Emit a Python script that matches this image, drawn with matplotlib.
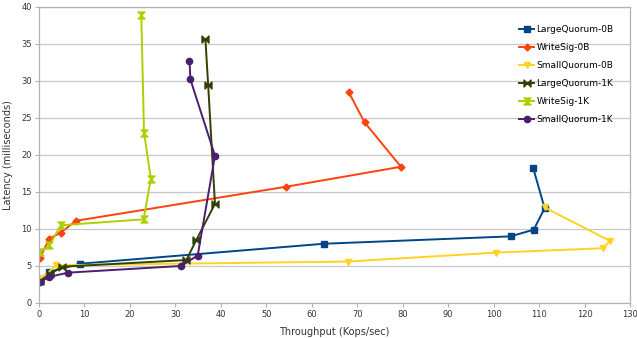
import matplotlib
matplotlib.use("Agg")
import matplotlib.pyplot as plt
from matplotlib.path import Path

series_names = ["LargeQuorum-0B", "WriteSig-0B", "SmallQuorum-0B",
                "LargeQuorum-1K", "WriteSig-1K", "SmallQuorum-1K"]

lq0_x = [0.2, 0.3, 2.2, 9.0, 62.6, 103.7, 108.8, 111.2, 108.7]
lq0_y = [3.0, 3.2, 4.2, 5.3, 8.0, 9.0, 9.9, 12.8, 18.2]

ws0_x = [0.2, 2.3, 4.8, 8.1, 54.3, 79.6, 71.6, 68.1]
ws0_y = [6.1, 8.7, 9.5, 11.1, 15.7, 18.4, 24.4, 28.5]

sq0_x = [0.3, 3.8, 68.0, 100.4, 124.1, 125.5, 111.2]
sq0_y = [3.2, 5.1, 5.6, 6.8, 7.4, 8.4, 12.9]

lq1_x = [0.3, 2.5, 5.0, 32.4, 34.6, 38.7, 37.2, 36.6]
lq1_y = [3.0, 3.9, 4.9, 5.8, 8.5, 13.4, 29.5, 35.6]

ws1_x = [0.2, 2.3, 4.8, 23.0, 24.6, 23.1, 22.5]
ws1_y = [6.9, 7.8, 10.5, 11.3, 16.8, 23.0, 38.9]

sq1_x = [0.2, 2.1, 6.4, 31.2, 34.9, 38.7, 33.3, 33.1]
sq1_y = [2.8, 3.5, 4.1, 5.0, 6.4, 19.9, 30.2, 32.7]

x_ticks = list(range(0, 131, 10))
y_ticks = list(range(0, 41, 5))

bowtie = Path([(-1, -1), (1, 1), (1, -1), (-1, 1), (-1, -1)],
              [Path.MOVETO, Path.LINETO, Path.LINETO, Path.LINETO, Path.CLOSEPOLY])
hourglass = Path([(-1, 1), (1, 1), (-1, -1), (1, -1), (-1, 1)],
                 [Path.MOVETO, Path.LINETO, Path.LINETO, Path.LINETO, Path.CLOSEPOLY])

data = [(lq0_x, lq0_y, "#004586", "s", 4.5),
        (ws0_x, ws0_y, "#ff420e", "D", 3.5),
        (sq0_x, sq0_y, "#ffd320", "v", 5),
        (lq1_x, lq1_y, "#314004", bowtie, 5),
        (ws1_x, ws1_y, "#aecf00", hourglass, 5),
        (sq1_x, sq1_y, "#4b1f6f", "o", 4.5)]

fig = plt.figure(figsize=(6.37, 3.38), dpi=100)
ax = fig.add_axes([0.0612, 0.1036, 0.928, 0.876])

for name, (xs, ys, c, m, ms) in zip(series_names, data):
    ax.plot(xs, ys, color=c, marker=m, markersize=ms, linewidth=1.4,
            markeredgecolor=c, markerfacecolor=c, label=name)

ax.set_xlim(0, 130)
ax.set_ylim(0, 40)
ax.set_xticks(x_ticks)
ax.set_yticks(y_ticks)
ax.yaxis.grid(True, color="#c8c8c8", linewidth=0.9)
ax.set_axisbelow(True)
for s in ax.spines.values():
    s.set_color("#b3b3b3")
    s.set_linewidth(0.9)
ax.tick_params(axis="both", labelsize=6, colors="#b3b3b3", labelcolor="#333333",
               length=3, width=0.8, pad=2)
ax.set_xlabel("Throughput (Kops/sec)", fontsize=7, color="#333333", labelpad=6)
ax.set_ylabel("Latency (milliseconds)", fontsize=7, color="#333333", labelpad=6)

leg = ax.legend(loc="upper right", bbox_to_anchor=(0.986, 0.966), frameon=False,
                fontsize=6.5, handlelength=1.6, labelspacing=1.0, handletextpad=0.3,
                borderaxespad=0.5)

fig.savefig("out.png", dpi=100)
